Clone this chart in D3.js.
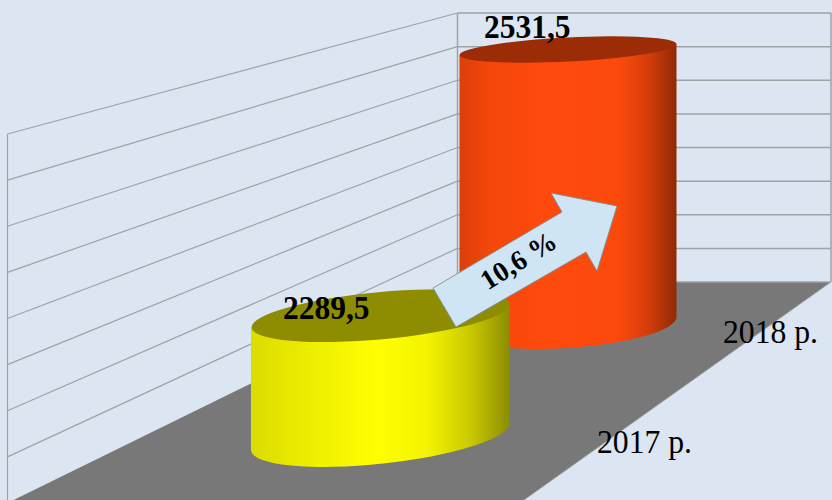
<!DOCTYPE html>
<html><head><meta charset="utf-8">
<script src="https://cdn.jsdelivr.net/npm/d3@7"></script>
<style>html,body{margin:0;padding:0;background:#dce6f2}svg{display:block}text{font-family:"Liberation Serif",serif;fill:#000}</style>
</head><body><svg id="c" width="832" height="500"></svg>
<script>
const categories = ["2017 р.", "2018 р."];
const values = [2289.5, 2531.5];
const valueLabels = ["2289,5", "2531,5"];
const gridValues = [2100, 2150, 2200, 2250, 2300, 2350, 2400, 2450, 2500];
const changeLabel = "10,6 %";

const svg = d3.select("#c");
const defs = svg.append("defs");

// the two wall edges of the 3D box, as value scales
const backY = d3.scaleLinear().domain([2100, 2500]).range([282, 13]);
const leftY = d3.scaleLinear().domain([2100, 2500]).range([503, 134]);
const xLeft = 7.5, xBack = 457.5, xRight = 831;
// height of a cylinder above the floor, in pixels
const barH = d3.scaleLinear().domain([2100, 2531.5]).range([0, 275]);

const wallColor = "#9fa2a6";
const line = d3.line();

// floor
svg.append("path")
  .attr("d", line([[xLeft, 503], [xBack, backY(2100)], [xRight, backY(2100)], [524, 500], [13, 500]]) + "Z")
  .attr("fill", "#787878");

// walls
const wall = svg.append("g").attr("fill", "none");
wall.selectAll(".l").data(gridValues.slice(1)).join("line")
  .attr("x1", xLeft).attr("x2", xBack)
  .attr("y1", d => leftY(d)).attr("y2", d => backY(d))
  .attr("stroke", wallColor).attr("stroke-width", 1.2);
wall.selectAll(".b").data(gridValues).join("line")
  .attr("x1", xBack).attr("x2", xRight)
  .attr("y1", d => backY(d)).attr("y2", d => backY(d))
  .attr("stroke", wallColor).attr("stroke-width", 1.5);
wall.append("line").attr("x1", xBack).attr("x2", xBack).attr("y1", backY(2500)).attr("y2", backY(2100)).attr("stroke", wallColor).attr("stroke-width", 1.5);
wall.append("line").attr("x1", xRight).attr("x2", xRight).attr("y1", backY(2500)).attr("y2", backY(2100)).attr("stroke", wallColor).attr("stroke-width", 1.5);
wall.append("line").attr("x1", xLeft).attr("x2", xLeft).attr("y1", leftY(2500)).attr("y2", 500).attr("stroke", wallColor).attr("stroke-width", 1.2);
// floor's front edge
svg.append("line").attr("x1", xRight).attr("y1", 282).attr("x2", 524).attr("y2", 500).attr("stroke", "#a3a6aa").attr("stroke-width", 0.8);

// cylinders: layout per category (perspective)
const layout = [
  {cx: 380.5, rx: 129.5, baseY: 436.5, ryTop: 23.6, ryBase: 27, tiltTop: -5.3, tiltBase: -6.2,
   stops: [[0, "#dcdc00"], [.2, "#ebeb00"], [.48, "#ffff00"], [.68, "#f4f400"], [.85, "#c8c800"], [1, "#8b8b00"]], top: "#8e8c00"},
  {cx: 568, rx: 108.5, baseY: 324.5, ryTop: 12, ryBase: 23.3, tiltTop: -2.9, tiltBase: -4,
   stops: [[0, "#dc3f09"], [.14, "#f3470b"], [.4, "#ff4a0c"], [.74, "#fb490c"], [.88, "#cf3c09"], [1, "#8f2a05"]], top: "#9b2c06"}
];

function cyl(i) {
  const L = layout[i], h = barH(values[i]), topY = L.baseY - h;
  const grad = defs.append("linearGradient").attr("id", "g" + i);
  grad.selectAll("stop").data(L.stops).join("stop")
    .attr("offset", d => d[0]).attr("stop-color", d => d[1]);
  const sT = Math.sin(L.tiltTop * Math.PI / 180) * L.rx;
  const sB = Math.sin(L.tiltBase * Math.PI / 180) * L.rx;
  const x0 = L.cx - L.rx, x1 = L.cx + L.rx;
  const g = svg.append("g");
  g.append("path").attr("fill", `url(#g${i})`)
    .attr("d", `M${x0},${topY - sT} L${x0},${L.baseY - sB} A${L.rx},${L.ryBase} ${L.tiltBase} 0 0 ${x1},${L.baseY + sB} L${x1},${topY + sT} Z`);
  g.append("ellipse").attr("cx", L.cx).attr("cy", topY).attr("rx", L.rx).attr("ry", L.ryTop)
    .attr("transform", `rotate(${L.tiltTop} ${L.cx} ${topY})`).attr("fill", L.top);
}
cyl(1); cyl(0);

// arrow
const arrowPts = [[433,288],[562,212],[551,193],[617,206],[597,271],[586,252],[456,327]];
svg.append("path").attr("d", line(arrowPts) + "Z").attr("fill", "#cfe5f3").attr("stroke", "#7f8f9a").attr("stroke-width", 0.9);
svg.append("text").attr("transform", "translate(520,263) rotate(-32)")
  .attr("text-anchor", "middle").attr("dominant-baseline", "middle")
  .attr("font-weight", "bold").attr("font-size", 28).text(changeLabel);

// value labels
const labelPos = [[283, 319], [484, 38]];
svg.selectAll(".v").data(valueLabels).join("text")
  .attr("x", (d, i) => labelPos[i][0]).attr("y", (d, i) => labelPos[i][1])
  .attr("font-weight", "bold").attr("font-size", 33)
  .attr("textLength", 86.5).attr("lengthAdjust", "spacingAndGlyphs").text(d => d);

// category labels
const catPos = [[597, 453], [723, 343]];
svg.selectAll(".k").data(categories).join("text")
  .attr("x", (d, i) => catPos[i][0]).attr("y", (d, i) => catPos[i][1])
  .attr("font-size", 33)
  .attr("textLength", 95).attr("lengthAdjust", "spacingAndGlyphs").text(d => d);
</script></body></html>
